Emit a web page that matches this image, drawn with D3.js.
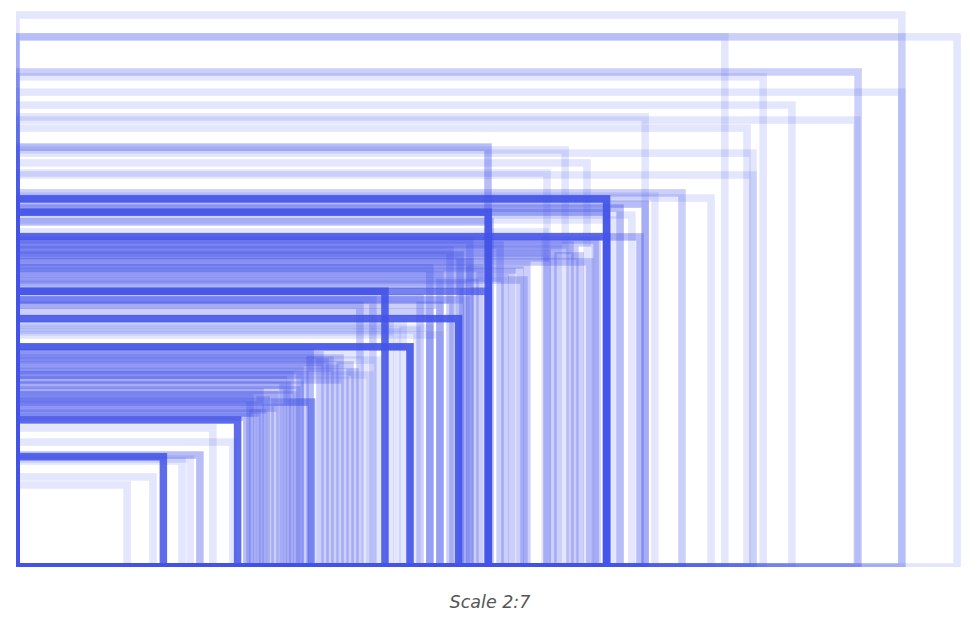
<!DOCTYPE html>
<html>
<head>
<meta charset="utf-8">
<script src="https://cdn.jsdelivr.net/npm/d3@7"></script>
<style>
  html, body { margin: 0; padding: 0; background: #fff; }
  svg { display: block; }
</style>
</head>
<body>
<svg id="chart" width="980" height="623"></svg>
<script>
// Screen resolutions (width x height) and how many times each occurs
const widths = [
  3078, 3270, 3078, 2463, 2926, 2596, 3078, 2696, 2186, 2922, 2540,
  1640, 1908, 2561, 1984, 1845, 2561, 2314, 2415,
  2052, 2052, 1641, 2186, 2099, 2140, 2220, 2052, 2168, 2074, 1647,
  1845, 1866, 1925, 1942, 2019, 1994, 1543, 1577, 1612, 1473, 1751, 1765, 1682, 1553,
  2012, 1883, 1775, 1723, 1699, 1960, 1838, 1577, 1508, 1438, 1595,
  1641, 1282, 1538, 1566, 1518, 1404, 1240, 1195, 1345, 1300, 1393, 1438, 1473, 1324,
  1473, 1438,
  1369, 1022, 1056, 1091, 1126, 1161, 987, 952, 1143, 1178,
  1074, 1108, 1213, 1230, 1258,
  1027, 976, 962, 942, 917, 883, 858, 837, 802,
  813, 823, 848, 869, 900, 928, 987, 1004,
  770, 684, 754,
  639, 605, 577, 512, 476, 386
];
const heights = [
  1918, 1842, 1842, 1842, 1720, 1703, 1650, 1605, 1564, 1553, 1525,
  1459, 1449, 1438, 1404, 1369, 1362, 1300, 1282,
  1279, 1233, 1233, 1261, 1247, 1223, 1289, 1148, 1147, 1206, 1199,
  1091, 1074, 1119, 1101, 1136, 1060, 1084, 1060, 1039, 1015, 1032, 997, 1119, 980,
  1126, 1108, 1049, 1025, 1004, 1081, 1164, 1136, 1101, 1039, 987,
  958, 958, 863, 928, 928, 935, 928, 910, 848, 841, 823, 830, 806, 817,
  910, 886,
  765, 747, 737, 719, 726, 702, 684, 667, 650, 678,
  712, 691, 737, 667, 719,
  573, 615, 598, 632, 552, 546, 535, 535, 521,
  587, 563, 608, 580, 598, 650, 632, 667,
  511, 483, 434,
  389, 375, 368, 383, 313, 285
];
const counts = [
  1, 1, 1, 1, 2, 1, 1, 1, 1, 1, 1,
  3, 1, 1, 1, 1, 1, 2, 1,
  16, 4, 14, 3, 3, 1, 1, 10, 3, 1, 3,
  2, 2, 2, 2, 2, 2, 3, 2, 2, 2, 2, 2, 2, 2,
  2, 2, 2, 2, 2, 2, 1, 2, 2, 2, 2,
  8, 14, 14, 2, 2, 2, 2, 2, 1, 1, 1, 1, 1, 1,
  2, 2,
  16, 3, 2, 2, 2, 2, 2, 2, 2, 2,
  2, 2, 1, 1, 1,
  5, 2, 2, 2, 2, 2, 2, 2, 3,
  2, 2, 2, 2, 2, 2, 2, 2,
  12, 1, 1,
  3, 1, 1, 12, 1, 1
];
const caption = "Scale 2:7";

const data = widths.map((w, i) => ({ w, h: heights[i], n: counts[i] }));

const k = 0.2878;               // px per resolution pixel (≈ 2:7)
const ox = 16, oy = 567;
const x = d3.scaleLinear().domain([0, 3400]).range([ox, ox + 3400 * k]);
const y = d3.scaleLinear().domain([0, 2000]).range([oy, oy - 2000 * k]);

const svg = d3.select("#chart");
svg.append("defs").append("clipPath").attr("id", "clip")
  .append("rect").attr("x", ox).attr("y", 0).attr("width", 980 - ox).attr("height", oy);

const g = svg.append("g").attr("clip-path", "url(#clip)");
const unitAlpha = 0.15;
g.selectAll("rect")
  .data(data.slice().sort((a, b) => b.w * b.h - a.w * a.h))
  .join("rect")
  .attr("x", x(0))
  .attr("y", d => y(d.h))
  .attr("width", d => x(d.w) - x(0))
  .attr("height", d => y(0) - y(d.h))
  .attr("fill", "none")
  .attr("stroke", "rgb(67,84,232)")
  .attr("stroke-width", 7.5)
  .attr("stroke-opacity", d => 1 - Math.pow(1 - unitAlpha, d.n));

svg.append("text")
  .attr("x", 490)
  .attr("y", 608)
  .attr("text-anchor", "middle")
  .attr("font-family", "DejaVu Sans, sans-serif")
  .attr("font-style", "italic")
  .attr("font-size", 17.5)
  .attr("fill", "#555")
  .text(caption);
</script>
</body>
</html>
